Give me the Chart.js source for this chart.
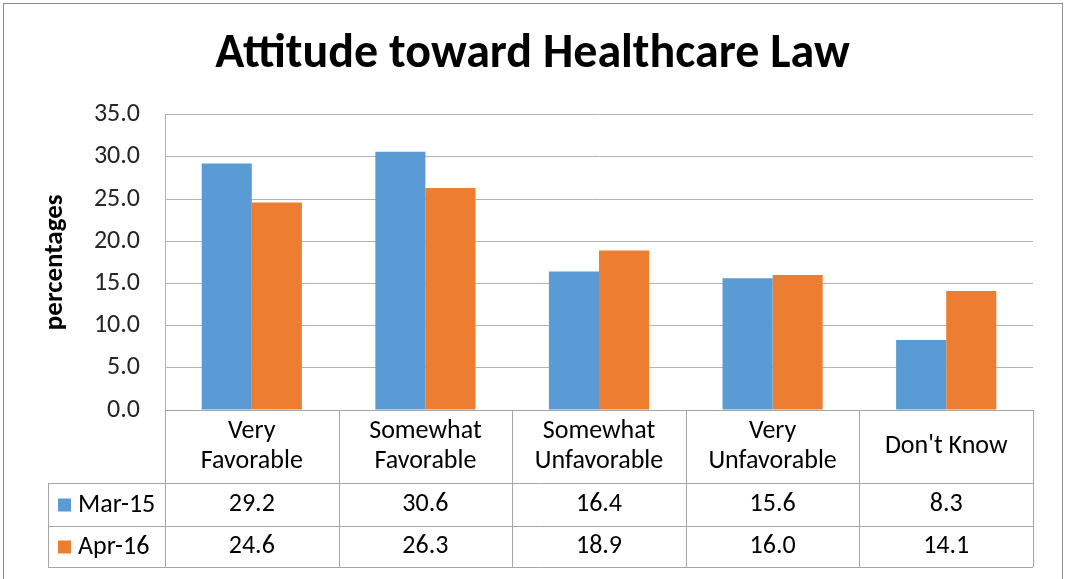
<!DOCTYPE html>
<html>
<head>
<meta charset="utf-8">
<title>Attitude toward Healthcare Law</title>
<script src="https://cdn.jsdelivr.net/npm/chart.js@4/dist/chart.umd.min.js"></script>
<style>
  html, body { margin: 0; padding: 0; background: #fff; }
  #wrap { width: 1065px; height: 579px; position: relative; }
</style>
</head>
<body>
<div id="wrap"><canvas id="healthChart"></canvas></div>
<script>
var categories = [["Very", "Favorable"], ["Somewhat", "Favorable"], ["Somewhat", "Unfavorable"], ["Very", "Unfavorable"], ["Don't Know"]];
var seriesNames = ["Mar-15", "Apr-16"];
var mar15 = [29.2, 30.6, 16.4, 15.6, 8.3];
var apr16 = [24.6, 26.3, 18.9, 16.0, 14.1];
var yTicks = [0, 5, 10, 15, 20, 25, 30, 35];

var FONT = "Carlito, Calibri, Lato, sans-serif";
var LINE = "#a6a6a6";

// data table under the plot, excel style
var dataTable = {
    id: "dataTable",
    afterDraw: function (chart) {
        var c = chart.ctx;
        var area = chart.chartArea;
        var n = categories.length;
        var w = (area.right - area.left) / n;
        var rows = [area.bottom, 483, 526, 567];
        var legendLeft = 48;

        c.save();
        c.strokeStyle = LINE;
        c.lineWidth = 1;
        c.beginPath();
        // horizontal rules
        c.moveTo(area.left, rows[0] + 0.5); c.lineTo(area.right, rows[0] + 0.5);
        for (var r = 1; r < rows.length; r++) {
            c.moveTo(legendLeft, rows[r] + 0.5);
            c.lineTo(area.right, rows[r] + 0.5);
        }
        // vertical rules
        c.moveTo(legendLeft + 0.5, rows[1]); c.lineTo(legendLeft + 0.5, rows[3]);
        for (var i = 0; i <= n; i++) {
            var x = Math.round(area.left + i * w) + 0.5;
            c.moveTo(x, rows[0]); c.lineTo(x, rows[3]);
        }
        c.stroke();

        c.fillStyle = "#000";
        c.font = "26px " + FONT;
        c.textAlign = "center";
        c.textBaseline = "middle";
        var headMid = (rows[0] + rows[1]) / 2;
        var lh = 30;
        categories.forEach(function (lab, i) {
            var cx = area.left + (i + 0.5) * w;
            var top = headMid - (lab.length - 1) * lh / 2;
            lab.forEach(function (t, k) { c.fillText(t, cx, top + k * lh); });
        });

        var series = [mar15, apr16];
        series.forEach(function (vals, s) {
            var cy = (rows[s + 1] + rows[s + 2]) / 2;
            c.textAlign = "center";
            vals.forEach(function (v, i) {
                c.fillText(v.toFixed(1), area.left + (i + 0.5) * w, cy);
            });
            var ds = chart.data.datasets[s];
            c.fillStyle = ds.backgroundColor;
            c.fillRect(58, cy - 6, 13, 13);
            c.fillStyle = "#000";
            c.textAlign = "left";
            c.fillText(seriesNames[s], 78, cy + 1);
        });

        // outer frame
        c.strokeStyle = "#8c8c8c";
        c.strokeRect(3.5, 3.5, 1059, 590);
        c.restore();
    }
};

var ctx = document.getElementById("healthChart").getContext("2d");
var myChart = new Chart(ctx, {
    type: "bar",
    data: {
        labels: categories,
        datasets: [
            { label: seriesNames[0], data: mar15, backgroundColor: "#5b9bd5" },
            { label: seriesNames[1], data: apr16, backgroundColor: "#ed7d31" }
        ]
    },
    options: {
        responsive: true,
        maintainAspectRatio: false,
        animation: false,
        layout: { padding: { left: 0, right: 0, top: 0, bottom: 169 } },
        datasets: { bar: { categoryPercentage: 0.577, barPercentage: 1 } },
        scales: {
            x: { display: false },
            y: {
                min: 0,
                max: 35,
                afterBuildTicks: function (scale) {
                    scale.ticks = yTicks.map(function (v) { return { value: v }; });
                },
                afterFit: function (scale) { scale.width = 165; },
                grid: { color: "#b3b3b3", drawTicks: false },
                border: { display: true, color: "#b3b3b3" },
                ticks: {
                    padding: 25,
                    color: "#262626",
                    font: { family: FONT, size: 26 },
                    callback: function (v) { return Number(v).toFixed(1); }
                },
                title: {
                    display: true,
                    text: "percentages",
                    color: "#000",
                    font: { family: FONT, size: 27, weight: "bold" },
                    padding: { top: 39, bottom: 0 }
                }
            },
            // empty right-hand strip so the title centres on the full width
            yRight: {
                position: "right",
                display: true,
                min: 0,
                max: 35,
                grid: { display: false },
                border: { display: false },
                ticks: { display: false },
                afterFit: function (scale) { scale.width = 32; }
            }
        },
        plugins: {
            legend: { display: false },
            tooltip: { enabled: false },
            title: {
                display: true,
                text: "Attitude toward Healthcare Law",
                color: "#000",
                font: { family: FONT, size: 48, weight: "bold" },
                padding: { top: 26, bottom: 31 }
            }
        }
    },
    plugins: [dataTable]
});
</script>
</body>
</html>
